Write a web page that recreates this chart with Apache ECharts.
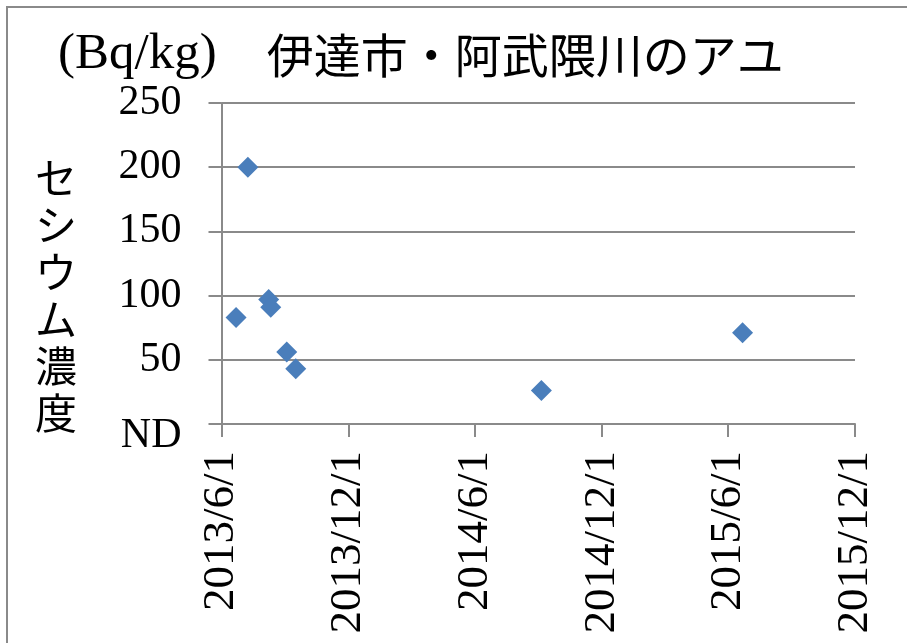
<!DOCTYPE html>
<html>
<head>
<meta charset="utf-8">
<script src="https://cdn.jsdelivr.net/npm/echarts@6/dist/echarts.min.js"></script>
<style>
html,body{margin:0;padding:0;background:#fff;}
#chart{width:907px;height:643px;}
</style>
</head>
<body>
<div id="chart"></div>
<script>
// ---- data ----
var titleUnit = '(Bq/kg)';
var titleName = '伊達市・阿武隈川のアユ';
var yAxisTitle = 'セシウム濃度';
var sampleDates = ['2013-06-22', '2013-07-09', '2013-08-08', '2013-08-11', '2013-09-03', '2013-09-16', '2014-09-05', '2015-06-22'];
var cesiumValues = [83, 200, 97, 91, 56, 43, 26, 71];
var xTickDates = ['2013-06-01', '2013-12-01', '2014-06-01', '2014-12-01', '2015-06-01', '2015-12-01'];
var xTickLabels = ['2013/6/1', '2013/12/1', '2014/6/1', '2014/12/1', '2015/6/1', '2015/12/1'];
var yTickValues = [0, 50, 100, 150, 200, 250];
var yTickLabels = ['ND', '50', '100', '150', '200', '250'];

function ts(s) { return Date.parse(s + 'T00:00:00Z'); }
var xTickTs = xTickDates.map(ts);
var points = sampleDates.map(function (d, i) { return [ts(d), cesiumValues[i]]; });

var gridColor = '#8a8a8a';
var serif = '"Liberation Serif", "Noto Sans CJK JP", serif';
var cjk = '"Noto Sans CJK JP", sans-serif';

var chart = echarts.init(document.getElementById('chart'), null, { renderer: 'canvas' });
chart.setOption({
  backgroundColor: '#ffffff',
  animation: false,
  title: {
    text: '{u|' + titleUnit + '}{g|\u3000}{n|' + titleName + '}',
    left: 53,
    top: 22,
    textStyle: {
      fontFamily: serif,
      fontSize: 48,
      fontWeight: 'normal',
      color: '#000',
      lineHeight: 56,
      rich: {
        u: { fontFamily: serif, fontSize: 51, color: '#000', lineHeight: 56 },
        g: { fontFamily: cjk, fontSize: 50, color: '#000', lineHeight: 56 },
        n: { fontFamily: cjk, fontSize: 47, color: '#000', lineHeight: 56 }
      }
    }
  },
  graphic: [
    {
      type: 'rect',
      shape: { x: 7, y: 7, width: 940, height: 680 },
      style: { fill: 'none', stroke: '#8a8a8a', lineWidth: 2 },
      silent: true
    },
    {
      type: 'text',
      left: 35,
      top: 155,
      style: {
        text: yAxisTitle.split('').join('\n'),
        fontFamily: cjk,
        fontSize: 42,
        lineHeight: 47,
        fill: '#000',
        align: 'center'
      }
    }
  ],
  grid: {
    left: 221.5,
    right: 52,
    top: 103,
    bottom: 219
  },
  xAxis: {
    type: 'value',
    min: xTickTs[0],
    max: xTickTs[xTickTs.length - 1],
    splitLine: { show: false },
    axisLine: { show: true, lineStyle: { color: gridColor, width: 2 } },
    axisTick: {
      show: true,
      customValues: xTickTs,
      length: 13,
      lineStyle: { color: gridColor, width: 2 }
    },
    axisLabel: {
      customValues: xTickTs,
      rotate: 90,
      margin: 27,
      fontFamily: serif,
      fontSize: 45,
      color: '#000',
      formatter: function (v) {
        var i = xTickTs.indexOf(v);
        return i >= 0 ? xTickLabels[i] : '';
      }
    }
  },
  yAxis: {
    type: 'value',
    min: 0,
    max: 250,
    interval: 50,
    axisLine: { show: true, lineStyle: { color: gridColor, width: 2 } },
    axisTick: { show: true, length: 13, lineStyle: { color: gridColor, width: 2 } },
    splitLine: { show: true, lineStyle: { color: gridColor, width: 2 } },
    axisLabel: {
      margin: 40,
      fontFamily: serif,
      fontSize: 42,
      color: '#000',
      formatter: function (v) {
        var i = yTickValues.indexOf(v);
        var t = i >= 0 ? yTickLabels[i] : String(v);
        return v === 0 ? '{nd|' + t + '}' : t;
      },
      rich: {
        nd: { fontFamily: serif, fontSize: 42, color: '#000', padding: [24, 0, 0, 0] }
      }
    }
  },
  series: [
    {
      type: 'scatter',
      data: points,
      symbol: 'diamond',
      symbolSize: 21,
      itemStyle: { color: '#4a7ebb', opacity: 1 }
    }
  ]
});
</script>
</body>
</html>
